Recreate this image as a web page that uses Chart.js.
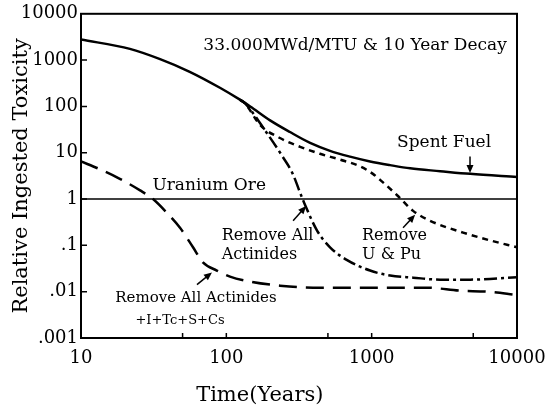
<!DOCTYPE html>
<html lang="en">
<head>
<meta charset="UTF-8">
<title>Relative Ingested Toxicity</title>
<script src="https://cdn.jsdelivr.net/npm/chart.js@4.4.1/dist/chart.umd.min.js"></script>
<style>
  html, body { margin: 0; padding: 0; background: #fff; }
</style>
</head>
<body>
<canvas id="tox_chart" width="560" height="406"></canvas>
<script>
// axis ticks
var yearTicks = [10, 100, 1000, 10000];
var yearInnerTicks = [50, 100, 500, 1000, 5000];
var toxTicks = [10000, 1000, 100, 10, 1, 0.1, 0.01, 0.001];
var toxTickLabels = ['10000', '1000', '100', '10', '1', '.1', '.01', '.001'];

// Spent Fuel
var spentYears = [10, 21.7, 35, 56, 91, 124, 146, 200, 274, 377, 517, 710, 975, 1340, 1840, 2960, 4760, 10000];
var spentTox   = [2780, 1750, 1050, 560, 250, 140, 100, 50, 28, 16.3, 11.0, 8.25, 6.5, 5.4, 4.6, 4.0, 3.5, 3.0];

// Remove U & Pu
var upuYears = [124, 135, 171, 234, 322, 441, 606, 832, 1020, 1143, 1496, 1928, 2520, 4256, 6530, 10000];
var upuTox   = [140, 115, 39.4, 20.8, 13.4, 9.5, 7.1, 5.1, 3.5, 2.6, 1.21, 0.556, 0.34, 0.189, 0.128, 0.091];

// Remove All Actinides
var actYears = [124, 135, 190, 246, 283, 337, 421, 517, 678, 975, 1340, 1928, 2960, 4760, 10000];
var actTox   = [140, 115, 26.7, 7.9, 3.8, 0.95, 0.209, 0.091, 0.048, 0.0286, 0.0223, 0.0201, 0.0182, 0.0182, 0.0205];

// Remove All Actinides +I+Tc+S+Cs
var fpYears = [10, 13.5, 18.5, 25.5, 31.3, 39.1, 48, 59, 69, 86, 106, 146, 234, 395, 1090, 2400, 4050, 6220, 10000];
var fpTox   = [6.5, 4.4, 2.74, 1.54, 1.0, 0.50, 0.24, 0.091, 0.043, 0.0286, 0.0212, 0.0165, 0.0135, 0.0122, 0.0122, 0.0122, 0.0105, 0.010, 0.0085];

// Uranium Ore
var oreYears = [10, 10000];
var oreTox   = [1, 1];

// labels on the plot, placed in data units
var notes = [
  { text: '33.000MWd/MTU & 10 Year Decay', year: 769, tox: 2050, size: 17, align: 'center' },
  { text: 'Spent Fuel', year: 3150, tox: 16.3, size: 17, align: 'center' },
  { text: 'Uranium Ore', year: 31, tox: 1.95, size: 17, align: 'left' },
  { text: 'Remove All', year: 93, tox: 0.163, size: 16, align: 'left' },
  { text: 'Actinides', year: 93, tox: 0.064, size: 16, align: 'left' },
  { text: 'Remove', year: 859, tox: 0.163, size: 16, align: 'left' },
  { text: 'U & Pu', year: 859, tox: 0.064, size: 16, align: 'left' },
  { text: 'Remove All Actinides', year: 61.8, tox: 0.0071, size: 15, align: 'center' },
  { text: '+I+Tc+S+Cs', year: 48, tox: 0.00232, size: 13, align: 'center' }
];
var arrows = [
  { fromYear: 4750, fromTox: 8.3, toYear: 4750, toTox: 3.65 },
  { fromYear: 288, fromTox: 0.34, toYear: 354, toTox: 0.71 },
  { fromYear: 1644, fromTox: 0.24, toYear: 1990, toTox: 0.457 },
  { fromYear: 62.8, fromTox: 0.0142, toYear: 79.6, toTox: 0.0259 }
];

var FONT = "'DejaVu Serif', 'Liberation Serif', serif";

function toPoints(xs, ys) {
  return xs.map(function(x, i) { return { x: x, y: ys[i] }; });
}

var framePlugin = {
  id: 'frame',
  afterDraw: function(chart) {
    var ctx = chart.ctx;
    var a = chart.chartArea;
    var xs = chart.scales.x, ys = chart.scales.y;
    ctx.save();
    ctx.strokeStyle = '#000';
    ctx.fillStyle = '#000';
    ctx.lineWidth = 2;
    ctx.strokeRect(a.left, a.top, a.right - a.left, a.bottom - a.top);

    // inner tick marks
    ctx.lineWidth = 1.5;
    ctx.beginPath();
    toxTicks.forEach(function(v) {
      var y = ys.getPixelForValue(v);
      if (y > a.top + 2 && y < a.bottom - 2) { ctx.moveTo(a.left, y); ctx.lineTo(a.left + 6, y); }
    });
    yearInnerTicks.forEach(function(v) {
      var x = xs.getPixelForValue(v);
      ctx.moveTo(x, a.bottom); ctx.lineTo(x, a.bottom - 5);
    });
    ctx.stroke();

    // notes
    ctx.textBaseline = 'middle';
    notes.forEach(function(n) {
      ctx.font = n.size + 'px ' + FONT;
      ctx.textAlign = n.align;
      ctx.fillText(n.text, xs.getPixelForValue(n.year), ys.getPixelForValue(n.tox));
    });

    // arrows
    ctx.lineWidth = 1.5;
    arrows.forEach(function(r) {
      var x1 = xs.getPixelForValue(r.fromYear), y1 = ys.getPixelForValue(r.fromTox);
      var x2 = xs.getPixelForValue(r.toYear), y2 = ys.getPixelForValue(r.toTox);
      var ang = Math.atan2(y2 - y1, x2 - x1);
      ctx.beginPath();
      ctx.moveTo(x1, y1);
      ctx.lineTo(x2 - 5 * Math.cos(ang), y2 - 5 * Math.sin(ang));
      ctx.stroke();
      ctx.beginPath();
      ctx.moveTo(x2, y2);
      ctx.lineTo(x2 - 8 * Math.cos(ang) + 3.5 * Math.sin(ang), y2 - 8 * Math.sin(ang) - 3.5 * Math.cos(ang));
      ctx.lineTo(x2 - 8 * Math.cos(ang) - 3.5 * Math.sin(ang), y2 - 8 * Math.sin(ang) + 3.5 * Math.cos(ang));
      ctx.closePath();
      ctx.fill();
    });

    // x axis title
    ctx.font = '21px ' + FONT;
    ctx.textAlign = 'center';
    ctx.fillText('Time(Years)', a.left + (a.right - a.left) * 0.41, chart.height - 10);
    ctx.restore();
  }
};

var ctx = document.getElementById('tox_chart');
var chart = new Chart(ctx, {
  type: 'line',
  data: {
    datasets: [
      { label: 'Spent Fuel', data: toPoints(spentYears, spentTox), borderColor: '#000', borderWidth: 2.5 },
      { label: 'Remove U & Pu', data: toPoints(upuYears, upuTox), borderColor: '#000', borderWidth: 2.5, borderDash: [6, 5] },
      { label: 'Remove All Actinides', data: toPoints(actYears, actTox), borderColor: '#000', borderWidth: 2.5, borderDash: [13, 4, 3, 4] },
      { label: 'Remove All Actinides +I+Tc+S+Cs', data: toPoints(fpYears, fpTox), borderColor: '#000', borderWidth: 2.5, borderDash: [18, 9] },
      { label: 'Uranium Ore', data: toPoints(oreYears, oreTox), borderColor: '#000', borderWidth: 1.5 }
    ]
  },
  options: {
    responsive: false,
    animation: false,
    layout: { padding: { left: 0, right: 43, top: 12, bottom: 0 } },
    elements: {
      point: { radius: 0 },
      line: { cubicInterpolationMode: 'monotone', fill: false }
    },
    plugins: {
      legend: { display: false },
      tooltip: { enabled: false }
    },
    scales: {
      x: {
        type: 'logarithmic',
        min: 10,
        max: 10000,
        afterBuildTicks: function(s) { s.ticks = yearTicks.map(function(v) { return { value: v }; }); },
        afterFit: function(s) { s.height = 68; },
        grid: { display: false, drawTicks: false },
        border: { display: false },
        ticks: {
          padding: 10,
          maxRotation: 0,
          autoSkip: false,
          color: '#000',
          font: { family: FONT, size: 18 },
          callback: function(v) { return String(v); }
        }
      },
      y: {
        type: 'logarithmic',
        min: 0.001,
        max: 10000,
        afterBuildTicks: function(s) { s.ticks = toxTicks.map(function(v) { return { value: v }; }); },
        afterFit: function(s) { s.width = 81; },
        grid: { display: false, drawTicks: false },
        border: { display: false },
        ticks: {
          padding: 3,
          color: '#000',
          font: { family: FONT, size: 18 },
          callback: function(v) {
            var i = toxTicks.indexOf(v);
            return i >= 0 ? toxTickLabels[i] : '';
          }
        },
        title: {
          display: true,
          text: 'Relative Ingested Toxicity',
          color: '#000',
          font: { family: FONT, size: 21 },
          padding: { top: 9, bottom: 0 }
        }
      }
    }
  },
  plugins: [framePlugin]
});
</script>
</body>
</html>
